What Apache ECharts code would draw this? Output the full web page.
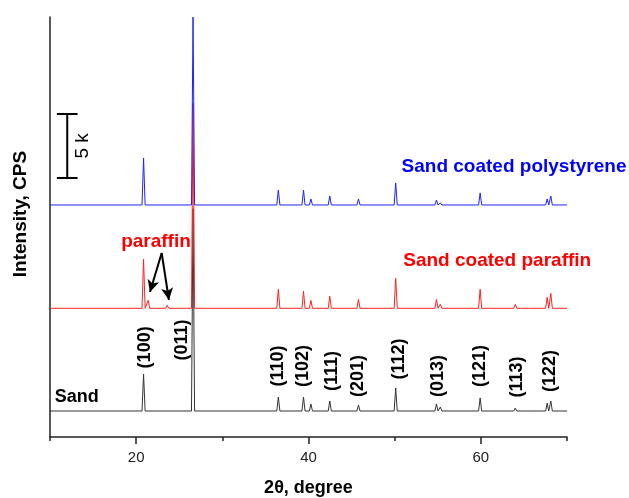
<!DOCTYPE html>
<html lang="en">
<head>
    <meta charset="UTF-8">
    <title>XRD patterns</title>
    <script src="https://cdn.jsdelivr.net/npm/echarts@6/dist/echarts.min.js"></script>
    <style>
        html, body { margin: 0; padding: 0; background: #fff; }
        #main { width: 629px; height: 498px; }
    </style>
</head>
<body>
    <div id="main"></div>
    <script>
        // peak positions (2theta) shared by the three patterns
        var angles = [20.86, 21.4, 23.6, 26.6, 36.5, 39.42, 40.28, 42.47, 45.8, 50.12, 54.85, 55.3, 59.92, 64.0, 65.75, 67.7, 68.12];
        // peak heights (CPS above each baseline), 0 = no peak
        var sandHeights = [2890, 0, 0, 15800, 1090, 1090, 550, 780, 470, 1800, 550, 310, 1020, 230, 80, 620, 780];
        var paraffinHeights = [3830, 620, 230, 16000, 1480, 1330, 620, 940, 700, 2340, 700, 310, 1480, 310, 80, 860, 1170];
        var polystyreneHeights = [3670, 0, 0, 14680, 1170, 1170, 470, 700, 470, 1720, 390, 160, 940, 80, 40, 470, 700];
        // vertical offsets of the stacked patterns
        var sandOffset = 2030;
        var paraffinOffset = 10050;
        var polystyreneOffset = 18120;

        var majorTicks = [20, 40, 60];
        var minorTicks = [10, 30, 50, 70];

        // miller indices written above the sand peaks
        var hklText = ['(100)', '(011)', '(110)', '(102)', '(111)', '(201)', '(112)', '(013)', '(121)', '(113)', '(122)'];
        var hklX = [21.0, 25.3, 36.5, 39.4, 42.7, 45.75, 50.5, 55.0, 59.9, 64.2, 68.0];
        var hklY = [7000, 7580, 5550, 5550, 5150, 4760, 6090, 4760, 5550, 4690, 5150];

        // 5 k scale bar
        var barX = 12, barLow = 20230, barHigh = 25230;

        var halfWidth = 0.18;
        function pattern(offset, heights) {
            var pts = [[10, offset]];
            for (var i = 0; i < angles.length; i++) {
                if (heights[i] <= 0) continue;
                pts.push([angles[i] - halfWidth, offset]);
                pts.push([angles[i], offset + heights[i]]);
                pts.push([angles[i] + halfWidth, offset]);
            }
            pts.push([70, offset]);
            return pts;
        }

        var font = 'Liberation Sans, Arial, sans-serif';

        function textPoint(x, y, text, style) {
            return {
                value: [x, y],
                label: Object.assign({ show: true, formatter: text, position: 'inside', opacity: 1 }, style)
            };
        }

        var labelData = hklText.map(function (t, i) {
            return textPoint(hklX[i], hklY[i], t, { rotate: 90, fontSize: 18, fontWeight: 'bold', color: '#000' });
        });
        labelData.push(textPoint(13.1, 3120, 'Sand', { fontSize: 18, fontWeight: 'bold', color: '#000' }));
        labelData.push(textPoint(61.9, 13750, 'Sand coated paraffin', { fontSize: 19, fontWeight: 'bold', color: '#ff0000' }));
        labelData.push(textPoint(63.85, 21090, 'Sand coated polystyrene', { fontSize: 19, fontWeight: 'bold', color: '#0000ff' }));
        labelData.push(textPoint(22.3, 15230, 'paraffin', { fontSize: 19, fontWeight: 'bold', color: '#ff0000' }));
        labelData.push(textPoint(13.8, (barLow + barHigh) / 2, '5 k', { rotate: 90, fontSize: 19, color: '#000' }));

        var chart = echarts.init(document.getElementById('main'));
        chart.setOption({
            animation: false,
            textStyle: { fontFamily: font },
            grid: { left: 50, right: 62, top: 17, bottom: 61, outerBoundsMode: 'none', containLabel: false },
            xAxis: [
                {
                    type: 'value',
                    min: 10,
                    max: 70,
                    interval: 10,
                    name: '2θ, degree',
                    nameLocation: 'middle',
                    nameGap: 42,
                    nameTextStyle: { fontSize: 18, fontWeight: 'bold', color: '#000', fontFamily: font },
                    axisLine: { lineStyle: { color: '#222', width: 1.5 } },
                    axisTick: { inside: false, length: 7, customValues: majorTicks, lineStyle: { color: '#222', width: 1.5 } },
                    axisLabel: {
                        margin: 13,
                        fontSize: 15,
                        color: '#222',
                        fontFamily: font,
                        customValues: majorTicks
                    },
                    splitLine: { show: false }
                },
                {
                    type: 'value',
                    position: 'bottom',
                    min: 10,
                    max: 70,
                    interval: 10,
                    axisLine: { show: false },
                    axisTick: { inside: false, length: 4, customValues: minorTicks, lineStyle: { color: '#222', width: 1.5 } },
                    axisLabel: { show: false },
                    splitLine: { show: false }
                }
            ],
            yAxis: {
                type: 'value',
                min: 0,
                max: 32800,
                name: 'Intensity, CPS',
                nameLocation: 'middle',
                nameGap: 20,
                nameTextStyle: { fontSize: 19, fontWeight: 'bold', color: '#000', fontFamily: font, padding: [0, 0, 0, 26] },
                axisLine: { show: true, lineStyle: { color: '#222', width: 1.5 } },
                axisTick: { show: false },
                axisLabel: { show: false },
                splitLine: { show: false }
            },
            series: [
                {
                    name: 'Sand',
                    type: 'line',
                    data: pattern(sandOffset, sandHeights),
                    showSymbol: false,
                    lineStyle: { color: '#333', width: 1 },
                    z: 2
                },
                {
                    name: 'Sand coated paraffin',
                    type: 'line',
                    data: pattern(paraffinOffset, paraffinHeights),
                    showSymbol: false,
                    lineStyle: { color: '#ff2020', width: 1 },
                    z: 3,
                    markLine: {
                        silent: true,
                        symbol: ['none', 'arrow'],
                        symbolSize: [9, 12],
                        label: { show: false },
                        lineStyle: { color: '#000', width: 2, type: 'solid' },
                        data: [
                            [{ coord: [22.96, 14370] }, { coord: [21.6, 11320] }],
                            [{ coord: [22.96, 14370] }, { coord: [23.8, 10700] }]
                        ]
                    }
                },
                {
                    name: 'Sand coated polystyrene',
                    type: 'line',
                    data: pattern(polystyreneOffset, polystyreneHeights),
                    showSymbol: false,
                    lineStyle: { color: '#2020ff', width: 1 },
                    z: 4
                },
                {
                    name: 'scale',
                    type: 'line',
                    data: [[barX - 1.2, barHigh], [barX + 1.2, barHigh], [barX, barHigh], [barX, barLow], [barX - 1.2, barLow], [barX + 1.2, barLow]],
                    showSymbol: false,
                    lineStyle: { color: '#000', width: 2 },
                    z: 5
                },
                {
                    name: 'labels',
                    type: 'scatter',
                    symbolSize: 0,
                    itemStyle: { opacity: 1 },
                    data: labelData,
                    z: 6
                }
            ]
        });
    </script>
</body>
</html>
